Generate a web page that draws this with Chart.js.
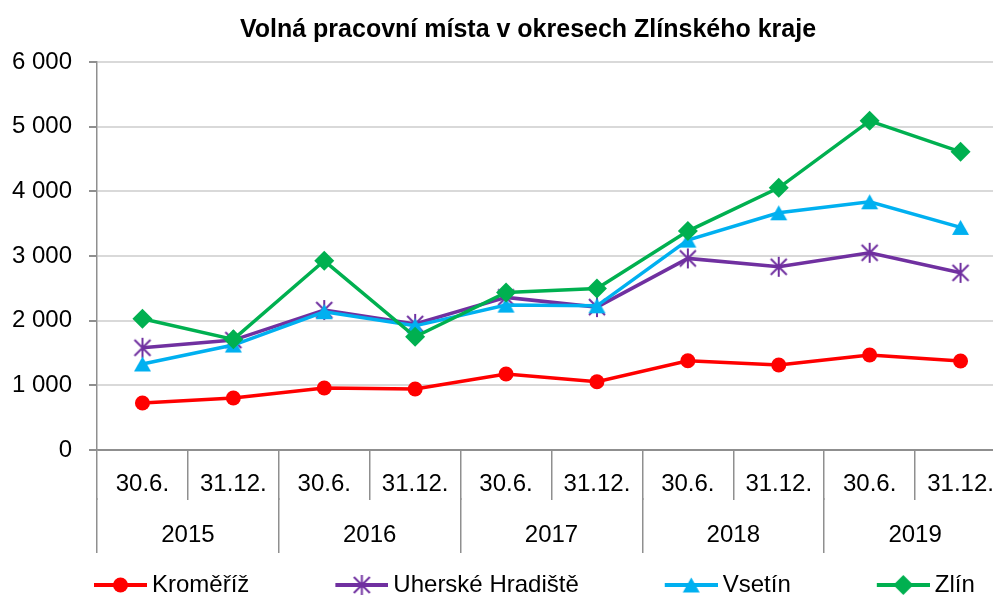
<!DOCTYPE html>
<html><head><meta charset="utf-8">
<script src="https://cdn.jsdelivr.net/npm/chart.js@4/dist/chart.umd.min.js"></script>
<style>html,body{margin:0;padding:0;overflow:hidden;background:#fff}canvas{display:block}</style>
</head><body>
<canvas id="c" width="1048" height="597"></canvas>
<script>
const periods = ['30.6.','31.12.','30.6.','31.12.','30.6.','31.12.','30.6.','31.12.','30.6.','31.12.'];
const years = ['2015','2016','2017','2018','2019'];
const seriesNames = ['Kroměříž','Uherské Hradiště','Vsetín','Zlín'];
const kromeriz = [726, 804, 958, 943, 1175, 1056, 1380, 1314, 1468, 1376];
const uherskeHradiste = [1581, 1700, 2164, 1950, 2360, 2210, 2963, 2833, 3050, 2740];
const vsetin = [1330, 1623, 2138, 1920, 2241, 2230, 3246, 3668, 3838, 3442];
const zlin = [2029, 1711, 2926, 1751, 2437, 2499, 3385, 4054, 5090, 4611];

const FONT = "'Liberation Sans', Arial, sans-serif";
const AXIS = '#8f8f8f';
const colors = ['#ff0000', '#7030a0', '#00b0f0', '#00b050'];

function mk(w, h, fn) { const c = document.createElement('canvas'); c.width = w; c.height = h; fn(c.getContext('2d')); return c; }
function drawMarker(ctx, kind, cx, cy, col) {
  ctx.fillStyle = col; ctx.strokeStyle = col;
  if (kind === 'circle') { ctx.beginPath(); ctx.arc(cx, cy, 7.5, 0, Math.PI * 2); ctx.fill(); }
  else if (kind === 'diamond') { ctx.beginPath(); ctx.moveTo(cx, cy - 10); ctx.lineTo(cx + 10, cy); ctx.lineTo(cx, cy + 10); ctx.lineTo(cx - 10, cy); ctx.closePath(); ctx.fill(); }
  else if (kind === 'triangle') { ctx.beginPath(); ctx.moveTo(cx, cy - 7.5); ctx.lineTo(cx + 8.5, cy + 7.5); ctx.lineTo(cx - 8.5, cy + 7.5); ctx.closePath(); ctx.fill(); }
  else if (kind === 'star') {
    ctx.lineWidth = 2; ctx.beginPath();
    ctx.moveTo(cx, cy - 10); ctx.lineTo(cx, cy + 10);
    ctx.moveTo(cx - 8, cy - 8); ctx.lineTo(cx + 8, cy + 8);
    ctx.moveTo(cx + 8, cy - 8); ctx.lineTo(cx - 8, cy + 8);
    ctx.stroke();
  }
}
const starImg = mk(22, 22, ctx => drawMarker(ctx, 'star', 11, 11, colors[1]));
const triImg = mk(19, 17, ctx => drawMarker(ctx, 'triangle', 9.5, 8.5, colors[2]));
const kinds = ['circle', 'star', 'triangle', 'diamond'];
const legendImgs = kinds.map((k, i) => mk(144, 24, ctx => {
  ctx.strokeStyle = colors[i]; ctx.lineWidth = 4;
  ctx.beginPath(); ctx.moveTo(91, 12); ctx.lineTo(144, 12); ctx.stroke();
  drawMarker(ctx, k, 117.5, 12, colors[i]);
}));

const fmt = v => String(v).replace(/\B(?=(\d{3})+(?!\d))/g, ' ');

const base = { borderWidth: 3.5, tension: 0, pointBorderWidth: 0, fill: false };
new Chart(document.getElementById('c'), {
  type: 'line',
  data: {
    labels: periods,
    datasets: [
      Object.assign({ label: seriesNames[0], data: kromeriz, borderColor: colors[0], backgroundColor: colors[0], pointStyle: 'circle', pointRadius: 7.5, order: 4 }, base),
      Object.assign({ label: seriesNames[1], data: uherskeHradiste, borderColor: colors[1], backgroundColor: colors[1], pointStyle: starImg, pointRadius: 8, order: 3 }, base),
      Object.assign({ label: seriesNames[2], data: vsetin, borderColor: colors[2], backgroundColor: colors[2], pointStyle: triImg, pointRadius: 8, order: 2 }, base),
      Object.assign({ label: seriesNames[3], data: zlin, borderColor: colors[3], backgroundColor: colors[3], pointStyle: 'rectRot', pointRadius: 10, order: 1 }, base)
    ]
  },
  options: {
    responsive: false,
    animation: false,
    events: [],
    layout: { padding: { left: 8, right: 0, top: 0, bottom: 0 } },
    plugins: {
      tooltip: { enabled: false },
      title: {
        display: true,
        text: 'Volná pracovní místa v okresech Zlínského kraje',
        color: '#000',
        font: { family: FONT, size: 25, weight: 'bold' },
        padding: { top: 15, bottom: 17 }
      },
      legend: {
        position: 'bottom',
        align: 'start',
        maxHeight: 26,
        labels: {
          usePointStyle: true,
          pointStyleWidth: 130,
          padding: 2,
          color: '#000',
          font: { family: FONT, size: 24 },
          generateLabels: chart => chart.data.datasets.map((ds, i) => ({
            text: ds.label, fillStyle: colors[i], strokeStyle: colors[i], lineWidth: 0,
            pointStyle: legendImgs[i], datasetIndex: i, hidden: false, fontColor: '#000'
          }))
        }
      }
    },
    scales: {
      x: {
        type: 'category',
        offset: true,
        grid: { display: true, offset: true, drawOnChartArea: false, drawTicks: true, tickLength: 50, color: AXIS, lineWidth: 1.5 },
        border: { display: true, color: AXIS, width: 1.5 },
        ticks: { autoSkip: false, maxRotation: 0, minRotation: 0, padding: -30, color: '#000', font: { family: FONT, size: 24 } },
        afterFit: s => { s.height = 48; }
      },
      x2: {
        type: 'category',
        position: 'bottom',
        labels: years,
        offset: true,
        grid: { display: true, offset: true, drawOnChartArea: false, drawTicks: true, tickLength: 55, color: AXIS, lineWidth: 1.5 },
        border: { display: false },
        ticks: { autoSkip: false, maxRotation: 0, minRotation: 0, padding: -32, color: '#000', font: { family: FONT, size: 24 } },
        afterFit: s => { s.height = 73; }
      },
      y: {
        type: 'linear',
        position: 'left',
        min: 0,
        max: 6000,
        ticks: { stepSize: 1000, padding: 17, color: '#000', font: { family: FONT, size: 24 }, callback: v => fmt(v) },
        grid: { color: c => (c.tick && c.tick.value === 0 ? AXIS : '#d9d9d9'), lineWidth: 2, tickColor: AXIS, tickLength: 8, drawTicks: true },
        border: { display: true, color: AXIS, width: 1.5 },
        afterFit: s => { s.width = 89; }
      },
      yPad: {
        type: 'linear',
        position: 'right',
        display: true,
        grid: { display: false },
        ticks: { display: false },
        border: { display: false },
        afterFit: s => { s.width = 42; }
      }
    }
  }
});
</script>
</body></html>
